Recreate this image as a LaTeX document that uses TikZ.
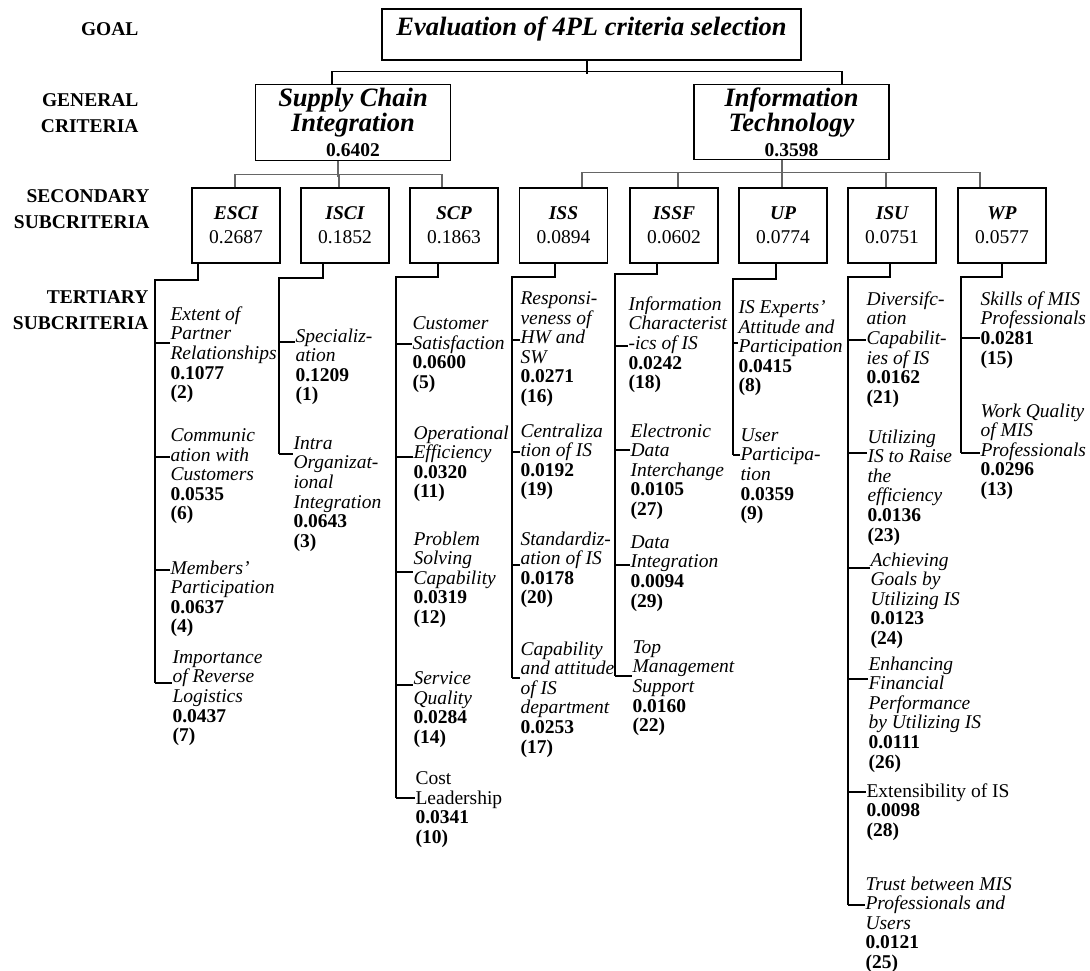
\documentclass[tikz,border=0pt]{standalone}
\usepackage{fontspec}
\setmainfont{Liberation Serif}
\usepackage{tikz}

\newcommand{\bigsize}{\fontsize{26.5}{25}\selectfont}
\newcommand{\midsize}{\fontsize{19.5}{24}\selectfont}
\newcommand{\leafsize}{\fontsize{19.5}{19.6}\selectfont}
\newcommand{\wgt}[2]{\\\textbf{\upshape #1}\\\textbf{\upshape(#2)}}

\begin{document}
\begin{tikzpicture}[
		x=1pt, y=-1pt, line width=1.1pt,
		level/.style={font=\fontsize{19.5}{26}\selectfont\bfseries, align=right, anchor=east, inner sep=0pt},
		goalbox/.style={draw, font=\bigsize\bfseries\itshape, minimum width=419pt, text height=27pt, text depth=24pt, inner ysep=0pt},
		mainbox/.style={draw, font=\bigsize\bfseries\itshape, align=center, minimum width=195pt, minimum height=75pt},
		subbox/.style={draw, font=\midsize\bfseries\itshape, align=center, minimum width=88pt, minimum height=75pt},
		leaf/.style={font=\leafsize\itshape, align=left, anchor=north west, inner sep=0pt, execute at begin node=\strut},
		leafup/.style={leaf, font=\leafsize},
		bus/.style={draw=black!60}
	]
	\useasboundingbox (0,0) rectangle (1090,971);

	\node[level] (lgoal) at (139,29) {GOAL};
	\node[level] (lgen) at (139,113) {GENERAL\\CRITERIA};
	\node[level] (lsec) at (150,209) {SECONDARY\\SUBCRITERIA};
	\node[level] (lter) at (149,310) {TERTIARY\\SUBCRITERIA};

	\node[goalbox] (goal) at (591.5,34.5) {Evaluation of 4PL criteria selection};
	\node[mainbox] (sci) at (353,122.5) {Supply Chain\\Integration\\{\upshape\fontsize{19.5}{25}\selectfont 0.6402}};
	\node[mainbox] (it) at (791.5,122) {Information\\Technology\\{\upshape\fontsize{19.5}{25}\selectfont 0.3598}};

	\node[subbox] (esci) at (236,225.5) {ESCI\\{\upshape\mdseries 0.2687}};
	\node[subbox] (isci) at (345,225.5) {ISCI\\{\upshape\mdseries 0.1852}};
	\node[subbox] (scp) at (454,225.5) {SCP\\{\upshape\mdseries 0.1863}};
	\node[subbox] (iss) at (563.5,225.5) {ISS\\{\upshape\mdseries 0.0894}};
	\node[subbox] (issf) at (674,225.5) {ISSF\\{\upshape\mdseries 0.0602}};
	\node[subbox] (up) at (783,225.5) {UP\\{\upshape\mdseries 0.0774}};
	\node[subbox] (isu) at (892,225.5) {ISU\\{\upshape\mdseries 0.0751}};
	\node[subbox] (wp) at (1002,225.5) {WP\\{\upshape\mdseries 0.0577}};

	\draw ([xshift=-4.5pt]goal.south) -- ++(0,13);
	\draw ([xshift=-21pt]sci.north) -- ++(0,-13) -| ([xshift=50.5pt]it.north);

	\draw[bus] ([xshift=-15pt]sci.south) -- ++(0,16);
	\draw[bus] ([xshift=-1pt]esci.north) -- ++(0,-13) -| ([xshift=-12pt]scp.north);
	\draw[bus] ([xshift=-6pt]isci.north) -- ++(0,-13);

	\draw[bus] ([xshift=-9.5pt]it.south) -- ++(0,13);
	\draw[bus] ([xshift=18.5pt]iss.north) -- ++(0,-15) -| ([xshift=-22pt]wp.north);
	\draw[bus] ([xshift=4pt]issf.north) -- ++(0,-15);
	\draw[bus] ([xshift=-1pt]up.north) -- ++(0,-15);
	\draw[bus] ([xshift=-6pt]isu.north) -- ++(0,-15);

	\node[leaf] (e1) at (170,306) {Extent of\\Partner\\Relationships\wgt{0.1077}{2}};
	\node[leaf] (e2) at (170,428) {Communic\\ation with\\Customers\wgt{0.0535}{6}};
	\node[leaf] (e3) at (170,560) {Members'\\Participation\wgt{0.0637}{4}};
	\node[leaf] (e4) at (172,650) {Importance\\of Reverse\\Logistics\wgt{0.0437}{7}};

	\node[leaf] (i1) at (295,328) {Specializ-\\ation\wgt{0.1209}{1}};
	\node[leaf] (i2) at (293,436) {Intra\\Organizat-\\ional\\Integration\wgt{0.0643}{3}};

	\node[leaf] (s1) at (412,316) {Customer\\Satisfaction\wgt{0.0600}{5}};
	\node[leaf] (s2) at (413,425) {Operational\\Efficiency\wgt{0.0320}{11}};
	\node[leaf] (s3) at (413,531) {Problem\\Solving\\Capability\wgt{0.0319}{12}};
	\node[leaf] (s4) at (413,671) {Service\\Quality\wgt{0.0284}{14}};
	\node[leafup] (s5) at (415,771) {Cost\\Leadership\wgt{0.0341}{10}};

	\node[leaf] (r1) at (520,291) {Responsi-\\veness of\\HW and\\SW\wgt{0.0271}{16}};
	\node[leaf] (r2) at (520,423) {Centraliza\\tion of IS\wgt{0.0192}{19}};
	\node[leaf] (r3) at (520,531) {Standardiz-\\ation of IS\wgt{0.0178}{20}};
	\node[leaf] (r4) at (520,641) {Capability\\and attitude\\of IS\\department\wgt{0.0253}{17}};

	\node[leaf] (f1) at (628,296) {Information\\Characterist\\-ics of IS\wgt{0.0242}{18}};
	\node[leaf] (f2) at (630,423) {Electronic\\Data\\Interchange\wgt{0.0105}{27}};
	\node[leaf] (f3) at (630,535) {Data\\Integration\wgt{0.0094}{29}};
	\node[leaf] (f4) at (632,640) {Top\\Management\\Support\wgt{0.0160}{22}};

	\node[leaf] (u1) at (738,300) {IS Experts'\\Attitude and\\Participation\wgt{0.0415}{8}};
	\node[leaf] (u2) at (740,428) {User\\Participa-\\tion\wgt{0.0359}{9}};

	\node[leaf] (d1) at (866,291) {Diversifc-\\ation\\Capabilit-\\ies of IS\wgt{0.0162}{21}};
	\node[leaf] (d2) at (867,429) {Utilizing\\IS to Raise\\the\\efficiency\wgt{0.0136}{23}};
	\node[leaf] (d3) at (870,552) {Achieving\\Goals by\\Utilizing IS\wgt{0.0123}{24}};
	\node[leaf] (d4) at (868,656) {Enhancing\\Financial\\Performance\\by Utilizing IS\wgt{0.0111}{26}};
	\node[leafup] (d5) at (866,783) {Extensibility of IS\wgt{0.0098}{28}};
	\node[leaf] (d6) at (865,876) {Trust between MIS\\Professionals and\\Users\wgt{0.0121}{25}};

	\node[leaf] (w1) at (980,291) {Skills of MIS\\Professionals\wgt{0.0281}{15}};
	\node[leaf] (w2) at (980,403) {Work Quality\\of MIS\\Professionals\wgt{0.0296}{13}};

	\draw ([xshift=-38pt]esci.south) |- (155,280) -- (155,683);
	\foreach \y/\n in {343/e1,457/e2,570/e3,683/e4}
		\draw (155,\y) -- (\n.west |- 155,\y);

	\draw ([xshift=-22pt]isci.south) |- (279,278) -- (279,454);
	\foreach \y/\n in {342/i1,454/i2}
		\draw (279,\y) -- (\n.west |- 279,\y);

	\draw ([xshift=-16pt]scp.south) |- (396,277) -- (396,798);
	\foreach \y/\n in {344/s1,457/s2,572/s3,685/s4,798/s5}
		\draw (396,\y) -- (\n.west |- 396,\y);

	\draw ([xshift=-8.5pt]iss.south) |- (512,277) -- (512,678);
	\foreach \y/\n in {340/r1,452/r2,565/r3,678/r4}
		\draw (512,\y) -- (\n.west |- 512,\y);

	\draw ([xshift=-17pt]issf.south) |- (615,274) -- (615,676);
	\foreach \y/\n in {346/f1,450/f2,565/f3,676/f4}
		\draw (615,\y) -- (\n.west |- 615,\y);

	\draw ([xshift=-7pt]up.south) |- (733,279) -- (733,455);
	\foreach \y/\n in {343/u1,455/u2}
		\draw (733,\y) -- (\n.west |- 733,\y);

	\draw ([xshift=-2pt]isu.south) |- (848,277) -- (848,905);
	\foreach \y/\n in {340/d1,453/d2,568/d3,679/d4,792/d5,905/d6}
		\draw (848,\y) -- (\n.west |- 848,\y);

	\draw ([xshift=0pt]wp.south) |- (961,277) -- (961,453);
	\foreach \y/\n in {338/w1,453/w2}
		\draw (961,\y) -- (\n.west |- 961,\y);
\end{tikzpicture}
\end{document}
